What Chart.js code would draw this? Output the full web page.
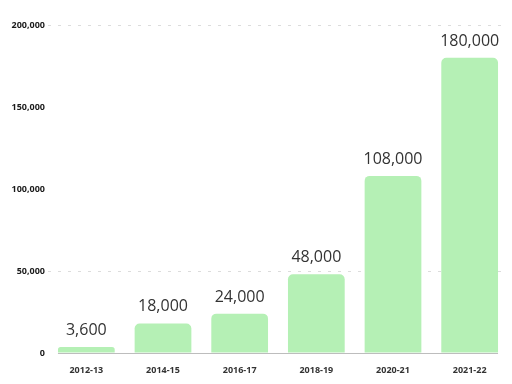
<!DOCTYPE html>
<html>
<head>
<meta charset="utf-8">
<script src="https://cdn.jsdelivr.net/npm/chart.js@4/dist/chart.umd.min.js"></script>
<style>
  html, body { margin: 0; padding: 0; background: #fff; }
  #box { width: 512px; height: 384px; }
</style>
</head>
<body>
<div id="box"><canvas id="barChart"></canvas></div>
<script>
const years = ["2012-13", "2014-15", "2016-17", "2018-19", "2020-21", "2021-22"];
const counts = [3600, 18000, 24000, 48000, 108000, 180000];
const yTicks = [0, 50000, 100000, 150000, 200000];

const fmt = (v) => v.toLocaleString("en-US");

// value labels over each bar
const barLabels = {
  id: "barLabels",
  afterDatasetsDraw(chart) {
    const ctx = chart.ctx;
    const meta = chart.getDatasetMeta(0);
    ctx.save();
    ctx.font = "16px 'Open Sans', sans-serif";
    ctx.fillStyle = "#333";
    ctx.textAlign = "center";
    ctx.textBaseline = "alphabetic";
    meta.data.forEach((bar, i) => {
      ctx.fillText(fmt(counts[i]), bar.x, bar.y - 12);
    });
    ctx.restore();
  },
};

// baseline under the bars only
const baseLine = {
  id: "baseLine",
  afterDatasetsDraw(chart) {
    const ctx = chart.ctx;
    const meta = chart.getDatasetMeta(0);
    const first = meta.data[0], last = meta.data[meta.data.length - 1];
    const y = chart.scales.y.getPixelForValue(0);
    ctx.save();
    ctx.strokeStyle = "#bdbdbd";
    ctx.lineWidth = 1;
    ctx.beginPath();
    ctx.moveTo(first.x - first.width / 2, y + 0.5);
    ctx.lineTo(last.x + last.width / 2, y + 0.5);
    ctx.stroke();
    ctx.restore();
  },
};

new Chart(document.getElementById("barChart"), {
  type: "bar",
  data: {
    labels: years,
    datasets: [{
      data: counts,
      backgroundColor: "#b5f0b5",
      borderRadius: { topLeft: 5, topRight: 5 },
      borderSkipped: "bottom",
      barPercentage: 0.74,
      categoryPercentage: 1,
    }],
  },
  options: {
    responsive: true,
    maintainAspectRatio: false,
    animation: false,
    layout: { padding: { top: 25, right: 4, left: 0, bottom: 0 } },
    plugins: { legend: { display: false }, tooltip: { enabled: false } },
    scales: {
      x: {
        grid: { display: false },
        border: { display: false },
        ticks: { color: "#333", font: { size: 9, weight: "bold", family: "'Open Sans', sans-serif" }, padding: 4 },
        afterFit(scale) { scale.height = 31; },
      },
      y: {
        min: 0,
        max: 200000,
        afterBuildTicks(scale) { scale.ticks = yTicks.map((v) => ({ value: v })); },
        afterFit(scale) { scale.width = 48; },
        border: { display: false, dash: [3, 7] },
        grid: {
          color: (c) => (c.tick && (c.tick.value === 50000 || c.tick.value === 200000)) ? "#dcdcdc" : "rgba(0,0,0,0)",
          lineWidth: 1,
          drawTicks: false,
        },
        ticks: {
          color: "#1a1a1a",
          padding: 3,
          font: { size: 9, weight: "bold", family: "'Open Sans', sans-serif" },
          callback: (v) => fmt(v),
        },
      },
    },
  },
  plugins: [barLabels, baseLine],
});
</script>
</body>
</html>
